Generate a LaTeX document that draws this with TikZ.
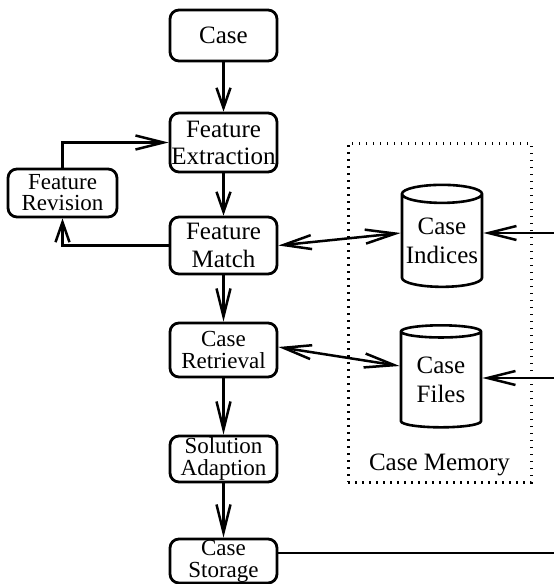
\documentclass[tikz,border=0pt]{standalone}
\usepackage{fontspec}
\setmainfont{Liberation Serif}
\usetikzlibrary{positioning,shapes.geometric,arrows.meta}

\begin{document}
\begin{tikzpicture}[x=1pt, y=-1pt,
    block/.style={rectangle, draw, rounded corners=9pt, line width=2.8pt, minimum width=107pt, inner sep=0pt, align=center, font=\fontsize{23}{22}\selectfont},
    store/.style={cylinder, shape border rotate=90, draw, line width=2.6pt, aspect=0.25, minimum width=80pt, minimum height=102pt, inner sep=0pt, align=center, font=\fontsize{25}{29}\selectfont},
    memory/.style={rectangle, draw, line width=3pt, dash pattern=on 1.5pt off 5.5pt, minimum width=183pt, minimum height=339pt},
    arr/.style={line width=2.5pt, -{Straight Barb[length=20pt, width=14pt, line width=2.5pt]}},
    longarr/.style={line width=2.5pt, -{Straight Barb[length=28pt, width=14pt, line width=2.5pt]}},
    twoway/.style={line width=2.5pt, {Straight Barb[length=28pt, width=14pt, line width=2.5pt]}-{Straight Barb[length=30pt, width=14pt, line width=2.5pt]}}
]
\useasboundingbox (0,0) rectangle (554,584);
\node[memory] (mem) at (439.5,312.5) {};
\node[above=7pt of mem.south, inner sep=0pt, font=\fontsize{25}{29}\selectfont] (memlabel) {Case Memory};

\node[block, minimum height=51pt, font=\fontsize{25}{25}\selectfont] (case) at (223.5,35.5) {Case};
\node[block, minimum height=59pt, on grid, below=107pt of case, font=\fontsize{25}{27}\selectfont] (fext) {Feature\\Extraction};
\node[block, minimum height=57pt, on grid, below=103pt of fext, font=\fontsize{25}{28}\selectfont] (fmatch) {Feature\\Match};
\node[block, minimum height=54pt, on grid, below=104.5pt of fmatch] (cretr) {Case\\Retrieval};
\node[block, minimum height=46pt, on grid, below=109pt of cretr] (sadapt) {Solution\\Adaption};
\node[block, minimum height=44pt, on grid, below=102pt of sadapt] (cstore) {Case\\Storage};
\node[block, minimum width=109pt, minimum height=48pt, font=\fontsize{23}{21}\selectfont] (frev) at (62.5,193) {Feature\\Revision};

\node[store] (cindex) at (442,241) {Case\\Indices};
\node[store] (cfiles) at (441,380) {Case\\Files};

\coordinate (idxin) at (554,233);
\coordinate (filein) at (554,378);
\coordinate (storeout) at (554,553);

\draw[arr] (case) -- (fext);
\draw[arr] (fext) -- (fmatch);
\draw[longarr] (fmatch) -- (cretr);
\draw[longarr] (cretr) -- (sadapt);
\draw[longarr] (sadapt) -- (cstore);
\draw[longarr] (frev.north) |- (fext.west);
\draw[arr] (fmatch.west) -| (frev.south);
\draw[twoway] (fmatch.east) -- ([yshift=8pt]cindex.west);
\draw[twoway] ([yshift=3pt]cretr.east) -- ([yshift=14pt]cfiles.west);
\draw[longarr] (idxin) -- (idxin -| cindex.east);
\draw[longarr] (filein) -- (filein -| cfiles.east);
\draw[line width=2.5pt] (storeout -| cstore.east) -- (storeout);
\end{tikzpicture}
\end{document}
